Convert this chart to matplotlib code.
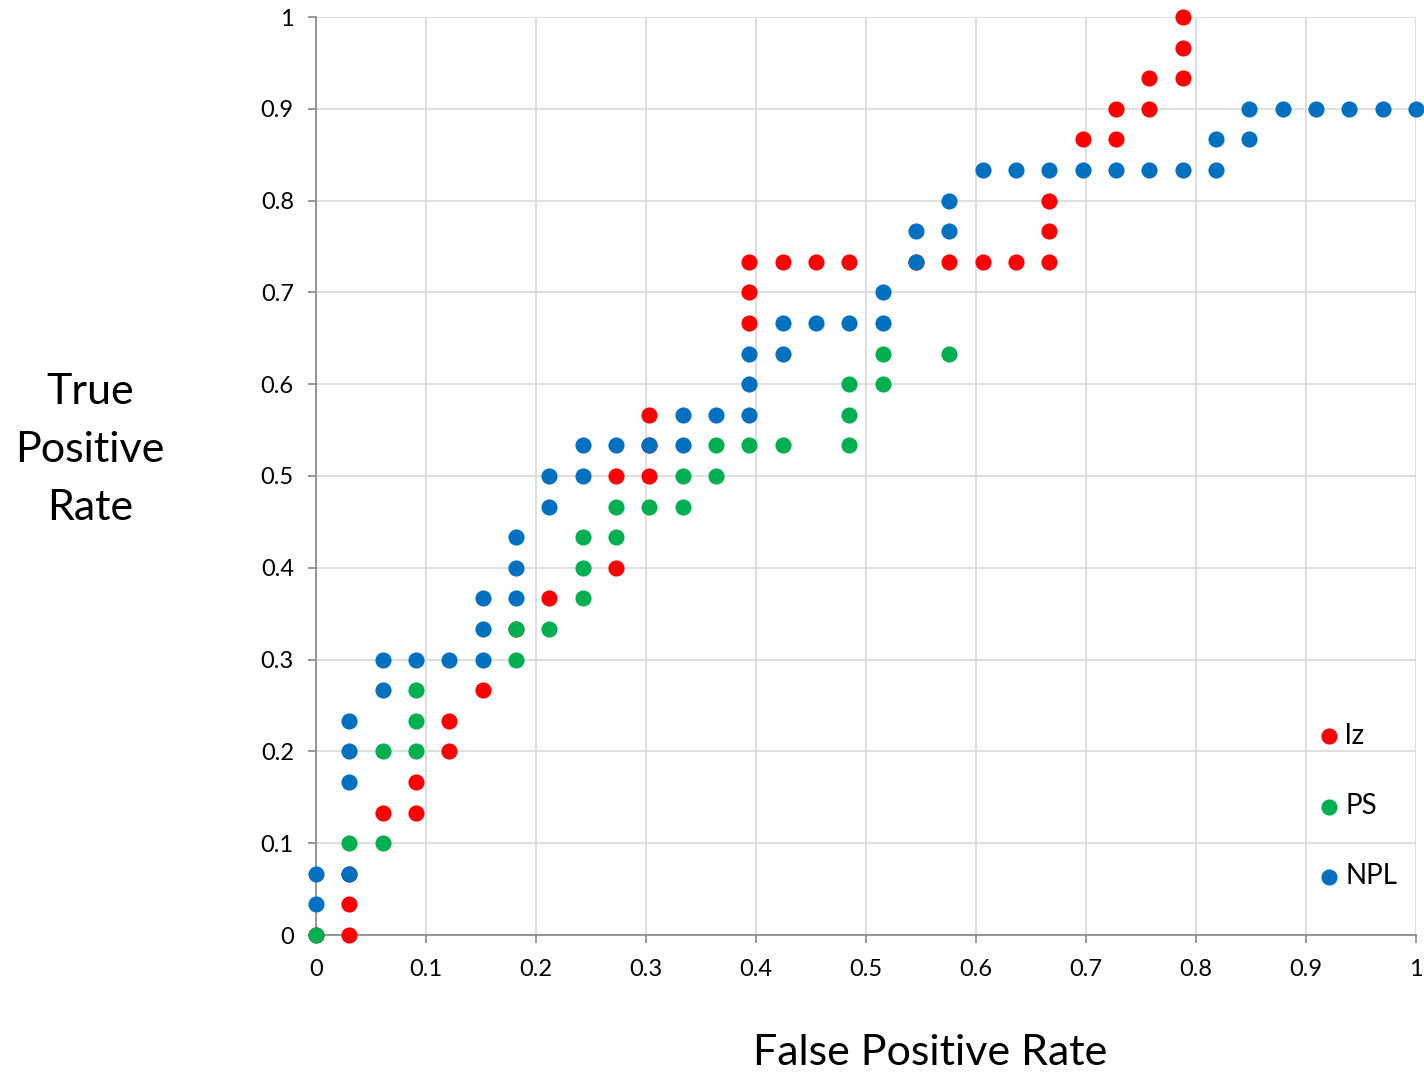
import numpy as np
import matplotlib
matplotlib.use("Agg")
import matplotlib.pyplot as plt
from matplotlib.ticker import FuncFormatter

plt.rcParams['font.family'] = ['Lato', 'DejaVu Sans']

# ROC points as counts: false positives out of 33, true positives out of 30
N_NEG = 33
N_POS = 30

lz_fp = [0, 1, 1, 1, 2, 3, 3, 4, 4, 5, 6, 7, 9, 9, 10, 10, 10, 13, 13, 13, 14, 15, 16,
         18, 19, 20, 21, 22, 22, 22, 23, 24, 24, 25, 25, 26, 26, 26]
lz_tp = [0, 0, 1, 2, 4, 4, 5, 6, 7, 8, 10, 11, 12, 15, 15, 16, 17, 20, 21, 22, 22, 22, 22,
         22, 22, 22, 22, 22, 23, 24, 26, 26, 27, 27, 28, 28, 29, 30]

ps_fp = [0, 1, 2, 2, 3, 3, 3, 6, 6, 7, 8, 8, 8, 9, 9, 10, 11, 11, 12, 12, 13, 14,
         16, 16, 16, 17, 17, 19]
ps_tp = [0, 3, 3, 6, 6, 7, 8, 9, 10, 10, 11, 12, 13, 13, 14, 14, 14, 15, 15, 16, 16, 16,
         16, 17, 18, 18, 19, 19]

npl_fp = [0, 0, 1, 1, 1, 1, 2, 2, 3, 4, 5, 5, 5, 6, 6, 6, 7, 7, 8, 8, 9, 10, 11, 11,
          12, 13, 13, 13, 14, 14, 15, 16, 17, 17, 18, 18, 19, 19, 20, 21, 22, 23, 24,
          25, 26, 27, 27, 28, 28, 29, 30, 31, 32, 33]
npl_tp = [1, 2, 2, 5, 6, 7, 8, 9, 9, 9, 9, 10, 11, 11, 12, 13, 14, 15, 15, 16, 16, 16,
          16, 17, 17, 17, 18, 19, 19, 20, 20, 20, 20, 21, 22, 23, 23, 24, 25, 25, 25,
          25, 25, 25, 25, 25, 26, 26, 27, 27, 27, 27, 27, 27]

series = [
    ("lz", lz_fp, lz_tp, "#FF0000"),
    ("PS", ps_fp, ps_tp, "#00B050"),
    ("NPL", npl_fp, npl_tp, "#0070C0"),
]

fig = plt.figure(figsize=(14.24, 10.73), dpi=100)
ax = fig.add_axes([316 / 1424, 1 - 935 / 1073, 1100 / 1424, 918 / 1073])

handles = []
for name, fp, tp, col in series:
    x = np.array(fp) / N_NEG
    y = np.array(tp) / N_POS
    h = ax.scatter(x, y, s=135, color=col, linewidths=0, label=name,
                   clip_on=False, zorder=3)
    handles.append(h)

ax.set_xlim(0, 1)
ax.set_ylim(0, 1)
ticks = np.arange(0, 1.01, 0.1)
ax.set_xticks(ticks)
ax.set_yticks(ticks)
fmt = FuncFormatter(lambda v, p: f"{v:.1f}".rstrip("0").rstrip(".") if v not in (0, 1) else str(int(v)))
ax.xaxis.set_major_formatter(fmt)
ax.yaxis.set_major_formatter(fmt)
ax.grid(True, color="#D9D9D9", linewidth=1.2, zorder=0)
ax.set_axisbelow(True)
for s in ["top", "right"]:
    ax.spines[s].set_visible(False)
for s in ["left", "bottom"]:
    ax.spines[s].set_color("#868686")
    ax.spines[s].set_linewidth(1.2)
ax.tick_params(axis="both", colors="#868686", length=6, width=1.2,
               labelsize=17, labelcolor="black")
ax.tick_params(axis="x", pad=11)
ax.tick_params(axis="y", pad=10)

fig.text(90 / 1424, 1 - 450 / 1073, "True\nPositive\nRate", ha="center", va="center",
         fontsize=31, linespacing=1.65)
fig.text(930 / 1424, 1 - 1053 / 1073, "False Positive Rate", ha="center", va="center",
         fontsize=31)

fig.legend(handles=handles, loc="center left", bbox_to_anchor=(1301 / 1424, 1 - 806 / 1073),
           frameon=False, fontsize=20, labelspacing=1.6, handletextpad=0.1,
           handlelength=1.0, markerscale=1.0, borderpad=0)

fig.savefig("out.png", dpi=100)
